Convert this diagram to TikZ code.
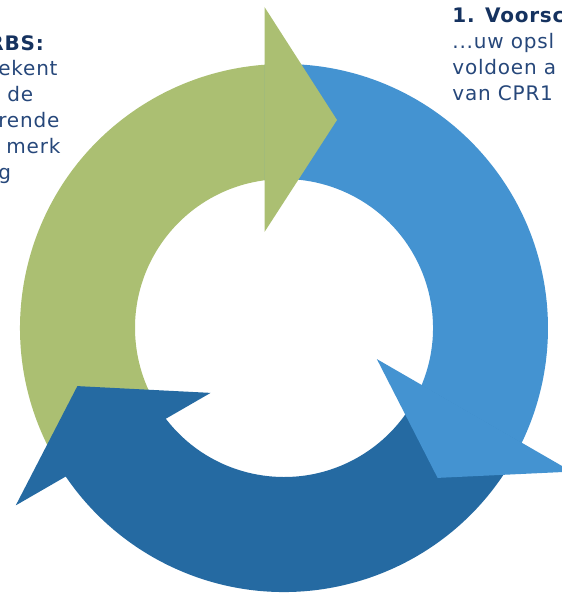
\documentclass[tikz,border=0pt]{standalone}
\usepackage{fontspec}
\setmainfont{DejaVu Sans}
\newfontfamily\blurbfont[LetterSpace=4]{DejaVu Sans}
\usepackage{xcolor}

\definecolor{cyclegreen}{HTML}{ABBF72}
\definecolor{cyclelight}{HTML}{4493D1}
\definecolor{cycledark}{HTML}{256AA2}
\definecolor{textnavy}{HTML}{26477A}
\definecolor{titlenavy}{HTML}{15325F}

\tikzset{
  blurb/.style={anchor=base west, align=left, inner sep=0pt, text=textnavy,
    font=\blurbfont\fontsize{10}{13}\selectfont},
}

\begin{document}
\begin{tikzpicture}[x=0.5pt, y=0.5pt]
\useasboundingbox (0,0) rectangle (562,596);
\clip (0,0) rectangle (562,596);
% ring
\begin{scope}[shift={(284,268)}]
% shafts
\foreach \ang/\col in {0/cyclegreen, -120/cyclelight, -240/cycledark}
  \fill[\col, rotate=\ang] (214.13:264) arc[start angle=214.13, end angle=92, radius=264]
    -- (95.3:149) arc[start angle=95.3, end angle=217.33, radius=149] -- cycle;
% heads
\foreach \ang/\col in {0/cyclegreen, -120/cyclelight, -240/cycledark}
  \fill[\col, rotate=\ang] (-19.5,321) -- (53,208) -- (-19.5,96) -- cycle;
\end{scope}
% texts (base = last line)
\node[blurb] (stepleft) at (-2,416) {\textcolor{titlenavy}{\textbf{\hspace*{-5pt}RBS:}}\\
  ekent\\ \hspace*{4.5pt}de\\ rende\\ \hspace*{4pt}merk\\ g};
\node[blurb] (stepright) at (452,495) {\textcolor{titlenavy}{\textbf{1. Voorsc}}\\
  ...uw opsl\\ voldoen a\\ van CPR1};
\end{tikzpicture}
\end{document}
